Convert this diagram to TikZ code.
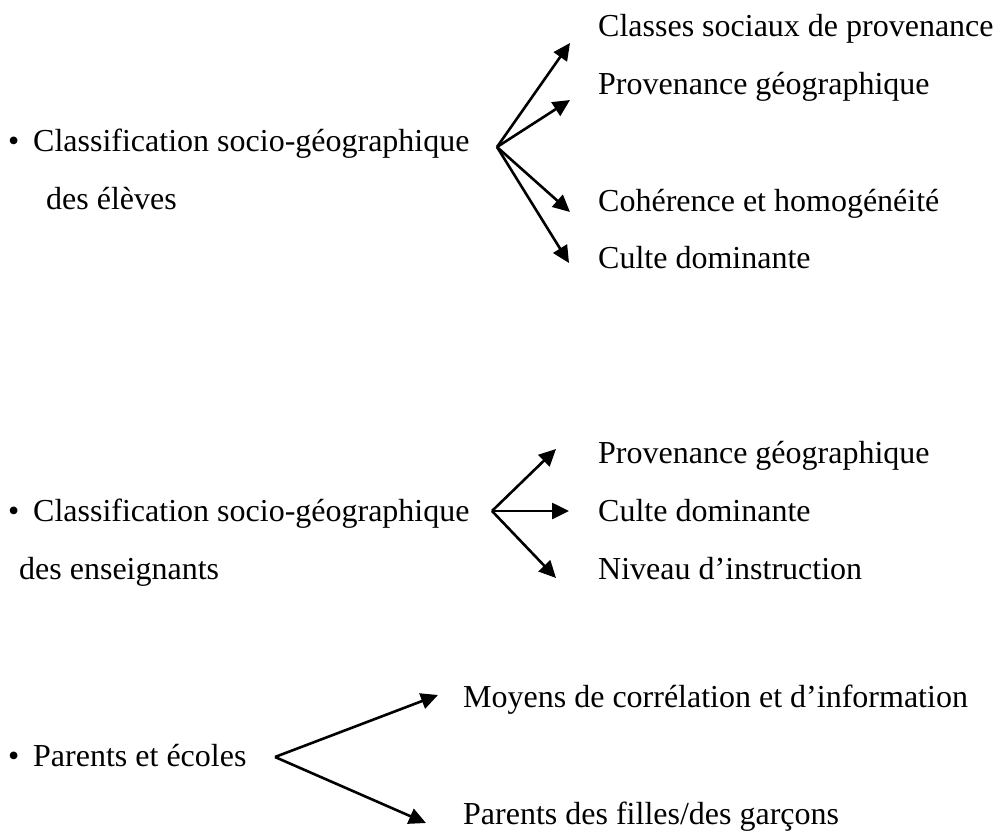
\documentclass[tikz,border=0pt]{standalone}
\usepackage{fontspec}
\setmainfont{Liberation Serif}
\usetikzlibrary{arrows.meta}
\begin{document}
\begin{tikzpicture}[x=1pt,y=-1pt,
  txt/.style={anchor=base west,inner sep=0pt,font=\fontsize{32}{38}\selectfont},
  arr/.style={line width=2.6pt,-{Triangle[length=17pt,width=16pt]}}]
\useasboundingbox (0,0) rectangle (996,837);
% group 1
\node[txt] (p1) at (8,152) {•};
\node[txt] (c1) at (33,152) {Classification socio-géographique};
\node[txt] (c1b) at (46,210) {des élèves};
\node[txt] (a1) at (598,37) {Classes sociaux de provenance};
\node[txt] (a2) at (598,95) {Provenance géographique};
\node[txt] (a3) at (598,212) {Cohérence et homogénéité};
\node[txt] (a4) at (598,269) {Culte dominante};
\coordinate (o1) at (497,147);
\coordinate (t1) at (570,43);
\coordinate (t2) at (570,100);
\coordinate (t3) at (570,212);
\coordinate (t4) at (569,263);
\draw[arr] (o1) -- (t1);
\draw[arr] (o1) -- (t2);
\draw[arr] (o1) -- (t3);
\draw[arr] (o1) -- (t4);
% group 2
\node[txt] (p2) at (8,521) {•};
\node[txt] (c2) at (33,521) {Classification socio-géographique};
\node[txt] (c2b) at (19,579) {des enseignants};
\node[txt] (b1) at (598,463) {Provenance géographique};
\node[txt] (b2) at (598,521) {Culte dominante};
\node[txt] (b3) at (598,579) {Niveau d’instruction};
\coordinate (o2) at (492,511);
\coordinate (u1) at (556,449);
\coordinate (u2) at (569,511);
\coordinate (u3) at (556,578);
\draw[arr] (o2) -- (u1);
\draw[arr] (o2) -- (u2);
\draw[arr] (o2) -- (u3);
% group 3
\node[txt] (p3) at (8,766) {•};
\node[txt] (c3) at (33,766) {Parents et écoles};
\node[txt] (d1) at (463,707) {Moyens de corrélation et d’information};
\node[txt] (d2) at (463,824) {Parents des filles/des garçons};
\coordinate (o3) at (275,757);
\coordinate (v1) at (438,695);
\coordinate (v2) at (426,823);
\draw[arr] (o3) -- (v1);
\draw[arr] (o3) -- (v2);
\end{tikzpicture}
\end{document}
